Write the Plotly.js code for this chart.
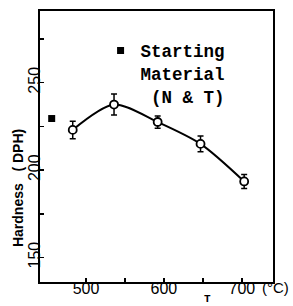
<!DOCTYPE html>
<html>
<head>
<meta charset="utf-8">
<script src="https://cdn.plot.ly/plotly-3.0.1.min.js"></script>
<style>html,body{margin:0;padding:0;background:#fff;}#chart{width:293px;height:306px;}</style>
</head>
<body>
<div id="chart"></div>
<script>
// Tempering temperature (°C) and hardness (DPH)
var temps = [483, 536, 592, 647, 703];
var hardness = [223, 237.5, 227.5, 215, 193.5];
var hardnessErr = [5, 6, 3.5, 4.5, 4];

// Starting material (normalized & tempered)
var startTemp = [456];
var startHardness = [229.5];
var startName = "Starting<br>Material<br>\u00A0(N & T)";

var xTickVals = [500, 550, 600, 650, 700];
var xTickText = ["500", "", "600", "", "700"];
var yTickVals = [150, 175, 200, 225, 250, 275];
var yTickText = ["150", "", "200", "", "250", ""];

var traces = [
  {
    x: temps, y: hardness, type: 'scatter', mode: 'lines+markers',
    line: {color: '#000', width: 2, shape: 'spline', smoothing: 0.8},
    marker: {symbol: 'circle', size: 8, color: '#fff', line: {color: '#000', width: 1.8}},
    error_y: {type: 'data', array: hardnessErr, visible: true, color: '#000', thickness: 1.5, width: 3},
    showlegend: false
  },
  {
    x: startTemp, y: startHardness, type: 'scatter', mode: 'markers',
    marker: {symbol: 'square', size: 7, color: '#000'},
    name: startName, showlegend: true
  }
];

var axisFont = {family: 'Liberation Sans, Arial, sans-serif', size: 16, color: '#000'};

var layout = {
  width: 293, height: 306,
  margin: {l: 40, r: 20, t: 11, b: 24},
  paper_bgcolor: '#fff', plot_bgcolor: '#fff',
  showlegend: true,
  legend: {
    x: 0.26, y: 0.92, xanchor: 'left', yanchor: 'top',
    valign: 'top', bgcolor: 'rgba(0,0,0,0)',
    font: {family: 'Liberation Mono, Courier New, monospace', size: 17.5, color: '#000', weight: 'bold'},
    itemwidth: 30, tracegroupgap: 0
  },
  xaxis: {
    range: [441, 740], showgrid: false, zeroline: false,
    showline: true, mirror: true, linecolor: '#000', linewidth: 2,
    ticks: 'inside', ticklen: 4, tickwidth: 1.5, tickcolor: '#000',
    tickvals: xTickVals, ticktext: xTickText, tickfont: axisFont,
    ticklabelstandoff: -9
  },
  yaxis: {
    range: [136, 291], showgrid: false, zeroline: false,
    showline: true, mirror: true, linecolor: '#000', linewidth: 2,
    ticks: 'inside', ticklen: 4, tickwidth: 1.5, tickcolor: '#000',
    tickvals: yTickVals, ticktext: yTickText, tickfont: axisFont, tickangle: -90,
    ticklabelstandoff: -8
  },
  annotations: [
    {text: '<b>Hardness\u00A0\u00A0\u00A0(\u00A0DPH)</b>', xref: 'paper', yref: 'paper', x: -0.094, y: 0.347,
     xanchor: 'center', yanchor: 'middle',
     textangle: -90, showarrow: false, font: {family: 'Liberation Sans, Arial, sans-serif', size: 14, color: '#000'}},
    {text: '<b>T</b>', xref: 'paper', yref: 'paper', x: 0.717, y: -0.063, xanchor: 'center', yanchor: 'middle',
     showarrow: false, font: {family: 'Liberation Mono, Courier New, monospace', size: 11, color: '#000'}},
    {text: '(°C)', xref: 'paper', yref: 'paper', x: 1.012, y: -0.022, xanchor: 'center', yanchor: 'middle',
     showarrow: false, font: {family: 'Liberation Sans, Arial, sans-serif', size: 15, color: '#000'}}
  ]
};

Plotly.newPlot('chart', traces, layout, {displayModeBar: false, staticPlot: true});
</script>
</body>
</html>
